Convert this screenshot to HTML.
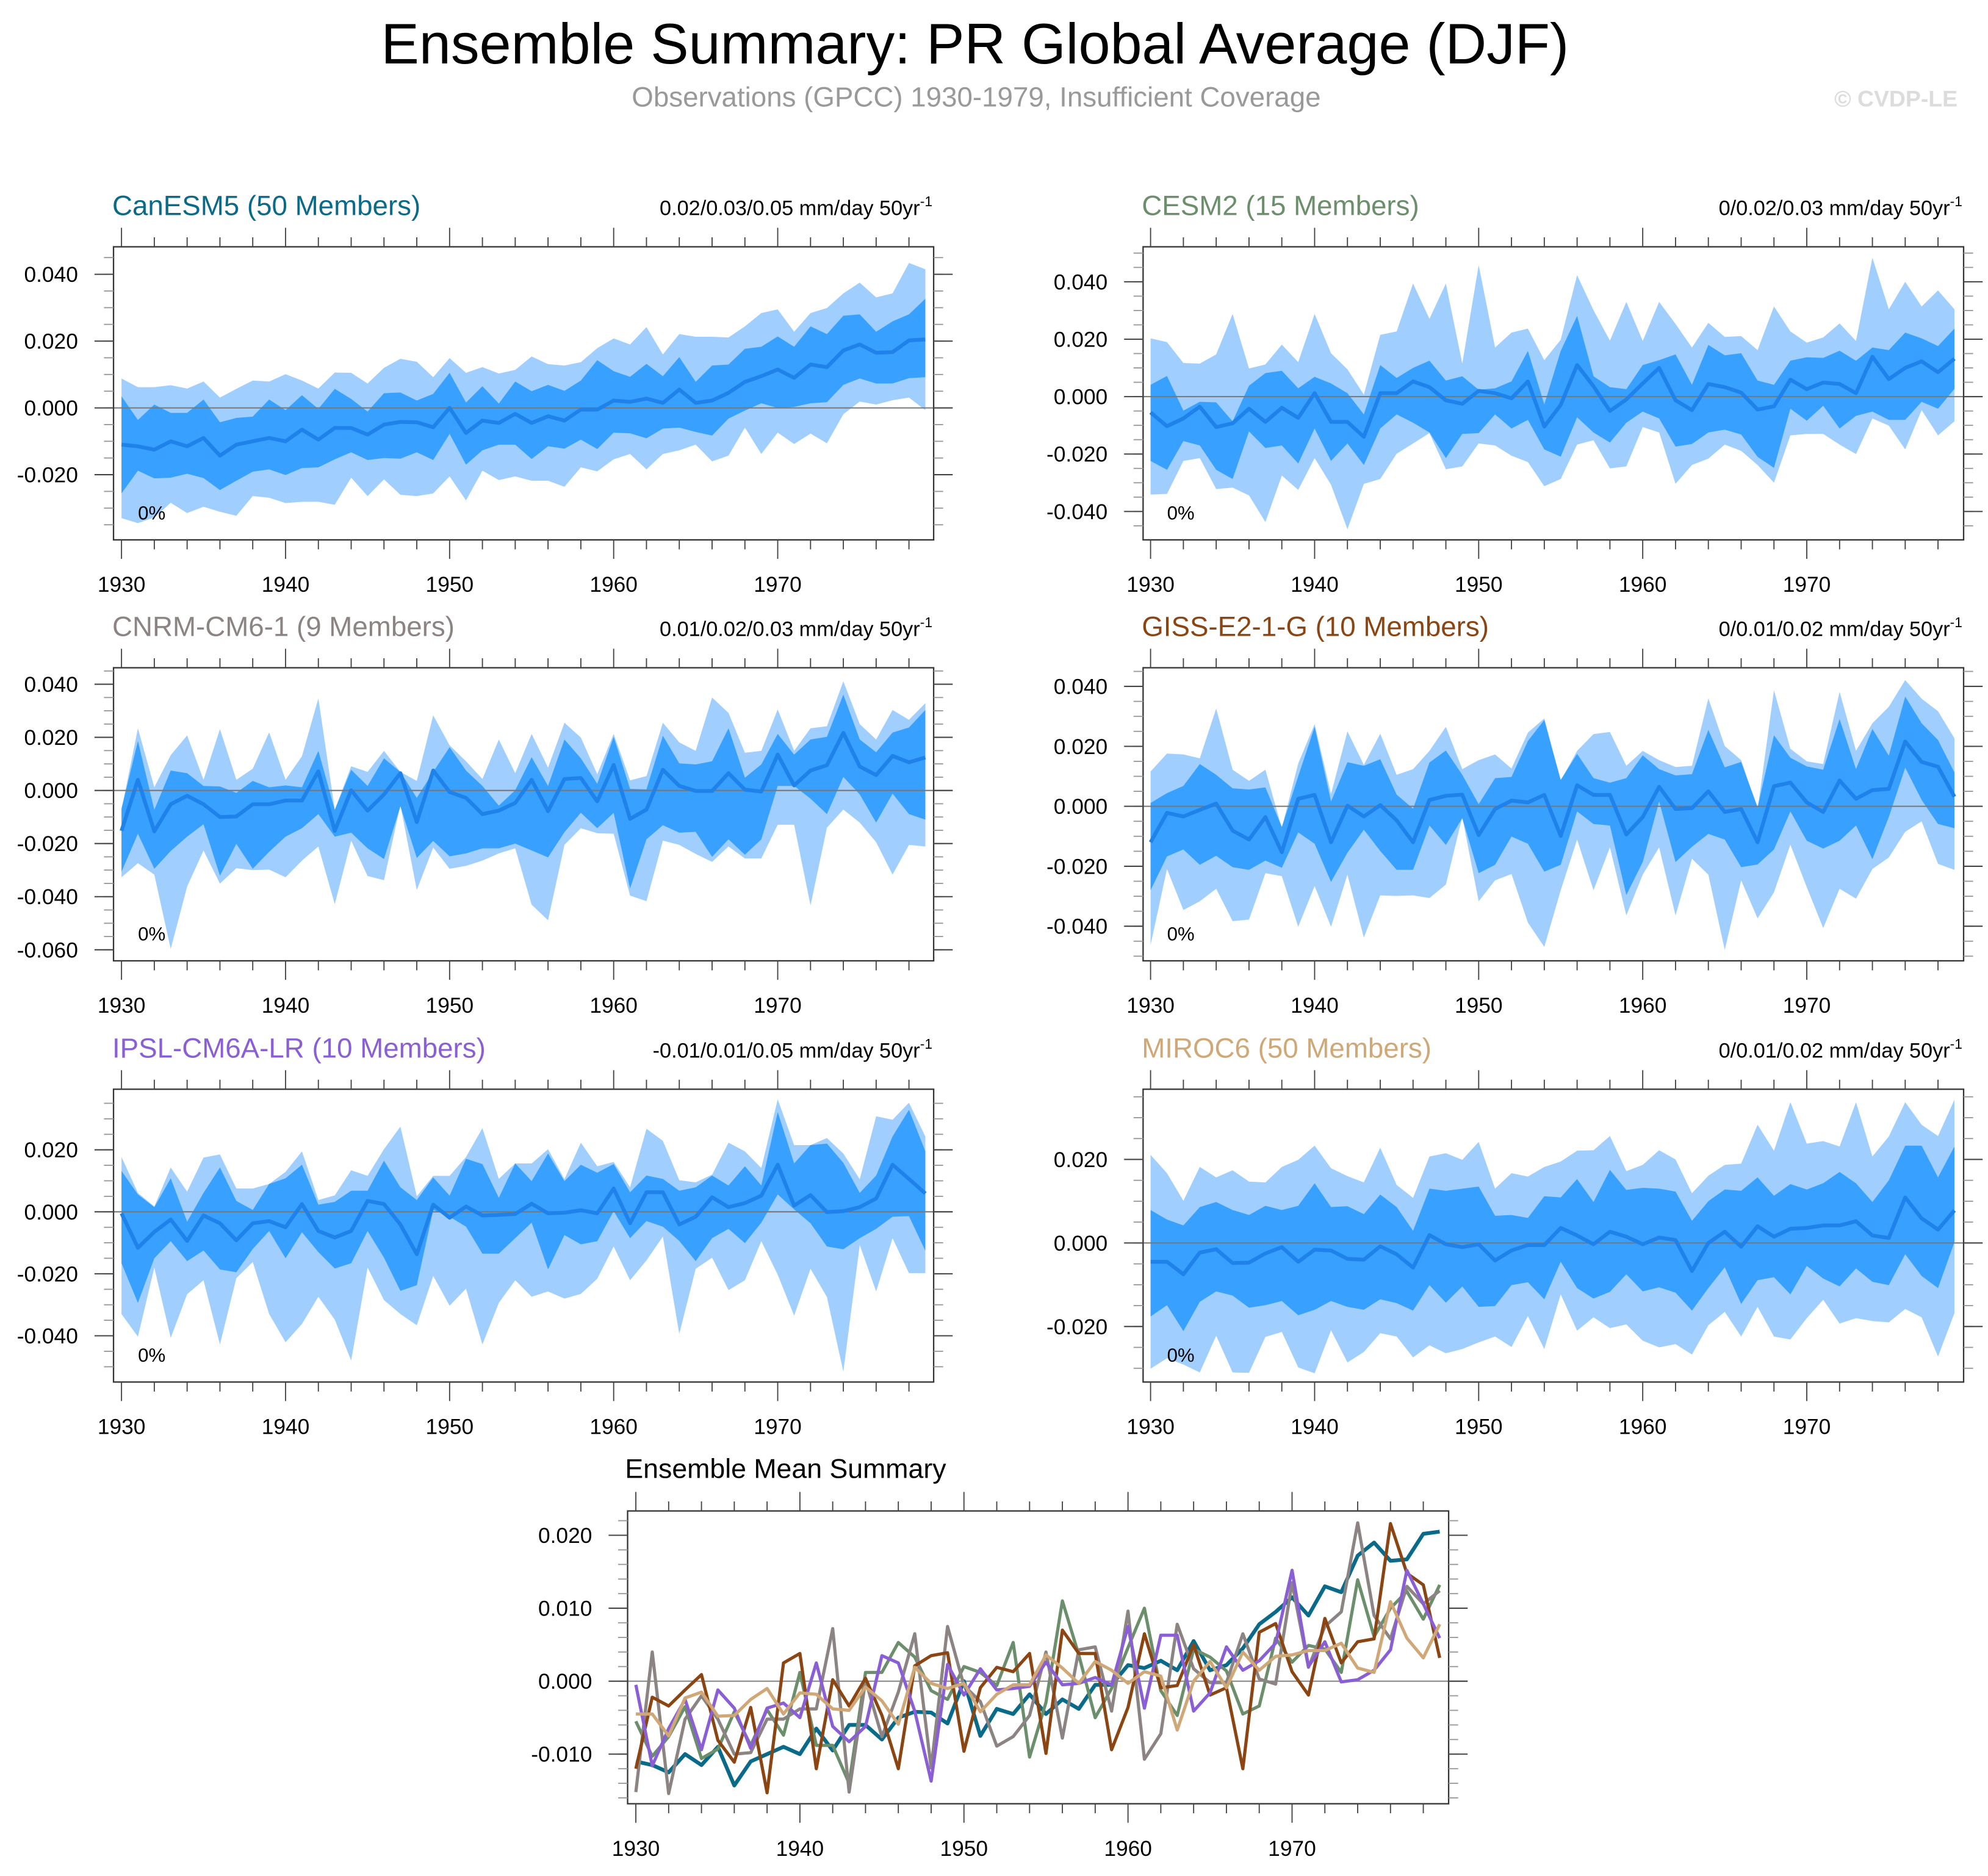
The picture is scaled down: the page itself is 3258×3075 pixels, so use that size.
<!DOCTYPE html>
<html><head><meta charset="utf-8"><style>
html,body{margin:0;padding:0;background:#fff;}
svg{display:block;}
text{font-family:"Liberation Sans",Arial,sans-serif;}
</style></head><body>
<svg id="fig" xmlns="http://www.w3.org/2000/svg" width="3258" height="3075" viewBox="0 0 1568 1480">
<text x="769" y="50" font-size="45" text-anchor="middle" fill="#000">Ensemble Summary: PR Global Average (DJF)</text>
<text x="770" y="84" font-size="22" text-anchor="middle" fill="#999">Observations (GPCC) 1930-1979, Insufficient Coverage</text>
<text x="1544" y="84" font-size="18" font-weight="bold" text-anchor="end" fill="#dcdcdc">© CVDP-LE</text>
</svg>
<script>
// values in units of 0.001 mm/day
const years = [1930,1931,1932,1933,1934,1935,1936,1937,1938,1939,1940,1941,1942,1943,1944,1945,1946,1947,1948,1949,1950,1951,1952,1953,1954,1955,1956,1957,1958,1959,1960,1961,1962,1963,1964,1965,1966,1967,1968,1969,1970,1971,1972,1973,1974,1975,1976,1977,1978,1979];
const xTickYears = [1930,1940,1950,1960,1970];

const canesm5_mean = [-11,-11.5,-12.5,-10,-11.5,-9,-14.3,-11,-10,-9,-10,-6.5,-9.5,-6,-6,-8,-5,-4.2,-4.3,-5.8,0,-7.5,-3.8,-4.5,-1.8,-4.5,-2.5,-3.8,-0.5,-0.5,2.2,1.8,2.8,1.5,5.5,1.5,2.2,4.5,7.8,9.5,11.5,9,13,12.2,17.2,19,16.5,16.7,20.2,20.5];
const canesm5_darkHi = [3.5,-3.6,1,-1.5,-1.5,2.5,-4.3,-3,-2.6,2.5,-0.7,3.8,-0.3,5.7,2.7,-1.1,4.4,4.6,2.2,4.2,10.5,1.6,6.5,1.3,7.9,5,6.9,5.1,8.2,14.3,11,9.3,13.2,9.5,15.2,7.8,12.7,13,17.7,18.3,21.4,18.3,24.4,22.1,27.6,28,22.8,25.9,28,32.7];
const canesm5_darkLo = [-25.6,-18.8,-21.1,-20.9,-19.7,-21,-24.6,-21.8,-19.1,-18.4,-20.1,-18,-17.8,-15.4,-13.3,-15.6,-15,-15.2,-13.3,-15.6,-7.8,-17,-12.7,-11,-11,-15.3,-11.5,-12.2,-9.5,-12.3,-7.4,-7.6,-9.1,-6.2,-5.9,-7.2,-8.3,-3.2,-0.8,1.4,0,0.3,1.4,1.7,6.9,8.8,7.3,7.3,8.9,9.2];
const canesm5_lightHi = [8.8,6.2,6.2,6.8,5.8,7.9,3.1,5.7,8.2,7.9,10.1,8.2,5.8,10.6,10.5,7.3,12,14.7,13.8,9.2,14.9,10.5,12.2,10.3,11.4,15.4,13.1,12.7,13.7,17.9,20.8,19,24.2,16,22.1,21.3,21.3,21.1,24.4,28.4,29.5,22.8,28.4,29.9,34.3,37.5,33.1,34.3,43.4,41.5];
const canesm5_lightLo = [-33,-34.5,-32.8,-28.4,-31.5,-29.6,-31.1,-32.3,-26.4,-26.9,-28.5,-28.1,-28.1,-29,-20.9,-26.4,-21.4,-26,-26.4,-25.6,-20.5,-27.7,-18.8,-21.6,-20.5,-21.8,-21.8,-23.6,-17.8,-19,-15.4,-13.8,-18.4,-13.8,-12.7,-11,-16,-14.3,-5.9,-13.8,-7.4,-10.8,-7.7,-10.6,-1.9,1.9,1,2.3,3.1,-0.7];
const canesm5_yTicks = [40,20,0,-20];

const cesm2_mean = [-5.5,-10.3,-7.6,-3.5,-10.6,-9.3,-4.2,-8.8,-3.9,-7.4,1.2,-8.8,-8.8,-14,1.2,1.2,5.3,3.3,-1.3,-2.5,2,1.2,-0.6,5.3,-10.4,-2.9,11,3.6,-5,-1,4.6,10,-1.3,-4.7,4.4,3.3,1.4,-4.5,-3.4,5.9,2.6,4.9,4.4,1.2,13.9,6.1,10,12.3,8.5,13.2];
const cesm2_darkHi = [4.1,7.2,-4.9,-1.8,-2,-8.6,3.8,8.2,9,2.9,6.9,4.6,1.2,-6.2,11,6.5,10,12.5,5.6,7.1,2.4,2.9,5.3,15.9,-2.7,15.9,28.1,7.1,3.3,2.6,11,12.7,14.7,4.1,18,14.4,15.1,5.6,4.1,12.5,13.7,13.5,16,12.5,17.1,16.2,22.3,20.3,17.6,23.7];
const cesm2_darkLo = [-22.4,-25.5,-15.5,-17,-25.5,-28.7,-12.1,-17.9,-17,-23.3,-11.1,-22.4,-16.3,-23.8,-11.1,-6.2,-9.1,-12.5,-21.4,-13,-12.7,-6.2,-11.1,-8.1,-18.4,-20.9,-7.2,-12.5,-16,-9.1,-5.2,-7.6,-17.4,-16.5,-12.5,-11.5,-13.2,-21,-24.8,-4.2,-8.4,-3.2,-11.1,-6.7,-5.2,-8.1,-8.1,-1.8,-4.2,2.7];
const cesm2_lightHi = [20.3,19,11.7,11.5,14.7,28.8,9.8,11.2,18.1,12,28.8,15.1,9.5,0.7,21.5,22.7,39.4,27.1,39.4,11.5,45.8,17.1,22.3,23.7,12.7,19.8,42.3,30.1,19.5,33,19.4,33,25.3,17.1,25.7,20.8,21.1,16.2,31.4,22.7,18.8,20.6,25.5,19.4,48.4,30.4,40,31.4,37,30.4];
const cesm2_lightLo = [-34.1,-33.9,-22.4,-21.4,-32.2,-31.7,-34.4,-43.7,-27.5,-32.5,-21.4,-30.7,-46.2,-30.4,-28.7,-19.9,-16.3,-12.7,-25.3,-24.3,-16.3,-17,-20.6,-22.8,-31.2,-28.7,-16.7,-15.2,-25,-24.3,-10.6,-12.5,-30.4,-23.8,-21.6,-16.7,-18.9,-23.8,-30,-13.5,-13,-13,-16.7,-20,-7.6,-10.1,-18.4,-4.7,-13.5,-8.6];
const cesm2_yTicks = [40,20,0,-20,-40];

const cnrm_mean = [-15.2,4,-15.4,-5.2,-2,-5.2,-10,-9.8,-5.2,-5.2,-3.8,-3.8,7.2,-15.2,0.1,-7.6,-1.5,6.5,-11.9,7.5,-0.6,-2.8,-8.9,-7.6,-4.7,4,-7.8,4.3,4.7,-4.1,9.6,-10.7,-7.2,7.8,1.7,-0.2,-0.2,6.5,0.3,-0.4,13.5,1.9,7.5,9.5,21.7,9,5.8,13,10.6,12.4];
const cnrm_darkHi = [-6.8,18.6,-7.3,7.5,6.5,1.7,1.5,-0.9,3.6,1.2,1.9,1.2,14.9,-7.3,7.8,1.7,12.1,7,-2.8,7,16.3,7.5,1.7,-5.7,0.1,12.5,1.7,19.2,12.1,2.5,20.2,0.6,0.4,20.6,10.2,9.8,11,23.4,4.8,9.8,21.3,13.5,19.2,20.2,36.1,19.2,14.4,21.8,23.7,30.3];
const cnrm_darkLo = [-30.6,-16.3,-29.5,-22.8,-17.4,-12.7,-32.1,-20.1,-29.5,-23.1,-17.4,-14.2,-8.9,-17.4,-15.9,-21.8,-25.8,-6,-25.4,-19,-24.8,-23.7,-21.8,-21.8,-20,-22.6,-25.2,-15.7,-8.4,-14.2,-8.4,-36.9,-18.4,-13.1,-15.9,-15.6,-25,-18.4,-24.2,-18.4,1.7,1.7,-3.1,-8.9,5.1,-1.5,-12.1,-1.2,-8.9,-11];
const cnrm_lightHi = [-7.3,23.4,1.2,13.3,20.7,4,23.1,4,8.2,21.9,4,12.9,34.7,-7.3,9.1,7,14.9,7,3.6,28.3,17,11,4.3,19.2,6.5,21.3,8.6,25.5,19.9,6.1,21.3,3.8,5.4,25.5,18.1,14.9,35,29.2,14.2,14.9,30.5,14.9,23.4,24.2,41.1,25,19.2,30.3,26.6,32.9];
const cnrm_lightLo = [-32.7,-27.4,-31.7,-59.7,-36.2,-22.6,-35.1,-29.3,-30,-29.8,-32.7,-26.4,-21.1,-42.8,-18.9,-32.2,-33.8,-5.5,-37.5,-21.5,-29.5,-28.4,-26.4,-23.7,-21.8,-43,-48.9,-20.5,-14.2,-16.1,-16.3,-39.6,-41.7,-18.9,-20.5,-23.9,-26.9,-21.1,-25.6,-25.6,-12.9,-12.9,-43.3,-14,-7.2,-12.1,-19.5,-31.7,-20.5,-21.1];
const cnrm_yTicks = [40,20,0,-20,-40,-60];

const giss_mean = [-12,-2.2,-3.4,-1.2,0.9,-8.1,-11.1,-3.6,-15.3,2.5,3.8,-12,0.2,-3.4,0.4,-4.7,-12,2.1,3.5,3.9,-9.6,-0.9,1.9,1.3,3.8,-9.9,7,3.8,3.8,-9.4,-3.6,6.5,-0.9,-0.6,5,-1.9,-0.9,-12,6.7,7.9,1.3,-1.9,8.6,2.5,5.4,5.8,21.6,14.8,13.2,3.2];
const giss_darkHi = [1.1,4.4,6.8,14.1,10.5,6,5.6,6.3,-6.9,10,26.5,1.6,14.7,13.5,15.7,3.9,-0.8,14.6,18.6,10.5,0.7,9.4,9.8,21.8,28.8,8.8,17.5,9.4,7.9,9.4,17,12.4,10.3,10.7,25.5,13,14.8,-0.3,23.7,16.2,13.3,12.2,29.1,12.4,25.8,16.9,36.6,27.7,22.1,11.3];
const giss_darkLo = [-28,-16.7,-14.4,-19.5,-16.5,-20.3,-21.2,-18.1,-20.5,-8.7,-12.5,-25.2,-15.5,-7.8,-14.9,-21.2,-21.2,-6.4,-12.9,-4,-22.3,-19.5,-10.1,-12.5,-21.8,-19.5,-1.7,-5.9,-6.4,-29.6,-18.6,1.6,-18.6,-13.5,-9.2,-11.1,-20.3,-19.4,-14.4,-1.7,-11.5,-14.1,-11.5,-6.4,-17.6,-3.6,12.9,2.1,-5.9,-7.3];
const giss_lightHi = [11.6,17.6,17.3,16,32.6,12.2,8.5,12.2,-7.3,14.3,27.4,4.1,25,13.8,24.2,10.5,12.4,18.5,26.5,12.4,15.4,17.3,12.6,24.6,29.3,8.5,18.5,24.1,24.8,13.5,18.5,15.4,13.1,13.5,36,20.1,15.4,-1.2,38.7,19.2,15,14.1,38.2,18.5,27.7,33.2,42.1,35.9,31.7,22.7];
const giss_lightLo = [-46.3,-20.9,-34.6,-31.7,-27.5,-38.3,-37.8,-22.3,-23.3,-40.2,-26.6,-40.2,-22.8,-43.8,-29.7,-29.9,-29.7,-30.6,-26.1,-3.6,-31.7,-24.7,-22.6,-38.8,-46.9,-28,-11.1,-28,-13.7,-36.4,-22.8,-13.7,-36.4,-17.5,-22.8,-47.9,-24.7,-37.4,-28.7,-12.8,-27,-40.6,-27.5,-30.8,-20.9,-17.1,-8.5,-5,-19.2,-21.2];
const giss_yTicks = [40,20,0,-20,-40];

const ipsl_mean = [-0.5,-11.6,-6.5,-2.5,-9.4,-1.2,-3.7,-9.2,-3.7,-3,-5,2.5,-6.2,-8.3,-6.2,3.5,2.5,-4.1,-13.7,2.3,-1.9,1.7,-1.2,-1,-0.7,2.6,-0.5,-0.3,0.5,-0.5,7.5,-3.7,6.3,6.3,-4.1,-1.6,4.7,1.5,2.8,5.2,15.2,2,5.4,-0.1,0.2,1.5,4.3,15.2,10.6,5.9];
const ipsl_darkHi = [13.2,5.6,1.5,10.8,-3.2,6.1,14.3,3.5,0.6,9,10.8,15.2,2.3,3.2,6.8,6.8,16.5,7.9,3.8,11.1,5.2,17.1,15.4,4.5,15.6,9.9,18.8,9.9,15.2,12.6,15.4,6.3,11.7,10.6,6.8,7.9,11.7,8.5,14.7,8.5,32.2,15.6,21.5,22,15.8,6.1,11.7,24.3,32.9,19.5];
const ipsl_darkLo = [-16.6,-29.4,-15,-9.5,-15.9,-12.5,-18.6,-19.5,-12,-6.2,-15,-6.6,-13,-18.3,-16.6,-6.2,-14.8,-25.5,-23.7,0.6,-1.6,-4.8,-13.5,-13.5,-8.5,-3.5,-18.6,-7.5,-10.5,-9.5,0.2,-8.5,-3,-4.8,-9.4,-15.9,-8.5,-5.5,-10.1,-3.5,5.6,0.8,-3.7,-11.2,-12.1,-8.5,-5.5,-1.6,-1.4,-12.6];
const ipsl_lightHi = [17.7,6.1,1.7,14.3,6.5,17.5,18.5,7.5,7.5,9,12.9,19.5,3.8,5.3,13.4,11.6,20.2,27.5,5,11.6,11.6,17.7,27,10.6,15.6,15.6,20.2,10.5,22.3,14.7,16.1,7.9,26.8,22.9,10.2,9.5,12,22.3,19.5,14.1,36.3,21.5,21.5,23.8,18.8,10.5,30.8,29.7,35.2,24.3];
const ipsl_lightLo = [-33,-40.3,-18,-40.7,-26.6,-22.1,-42.8,-21.4,-16.2,-33,-42.1,-36.2,-27.4,-34.8,-48,-18,-28.5,-33,-36.6,-20.7,-30.3,-24.8,-42.8,-29.4,-22.1,-27.4,-25.7,-28,-26.5,-21.6,-11.2,-22.1,-15.7,-8,-39.4,-18.4,-14.8,-25.3,-22.1,-9.5,-20.3,-33.5,-18.4,-27.5,-51.6,-10.7,-25.7,-8.5,-19.8,-19.8];
const ipsl_yTicks = [20,0,-20,-40];

const miroc6_mean = [-4.5,-4.5,-7.5,-2.3,-1.5,-4.8,-4.7,-2.5,-1,-4.5,-1.6,-1.8,-3.8,-4,-0.8,-2.7,-5.9,1.9,-0.3,-1,-0.3,-4.2,-1.8,-0.5,-0.5,3.6,1.8,-0.3,2.7,1.5,-0.3,1.3,0.7,-6.7,0,2.7,-0.9,4,1.5,3.4,3.6,4.2,4.2,5.2,1.8,1.2,10.9,5.9,3.2,7.8];
const miroc6_darkHi = [7.9,5.6,4.2,8.6,9.8,7.9,6.7,8.9,7.9,8.9,14.3,8.6,8.8,6.9,11.6,8.6,2.9,13,12.5,13,13.5,6.5,6.7,6,11.2,10.9,15.3,9.8,17.5,12.7,13.2,13,12.3,5.3,10,12.8,12.5,15.7,11.3,14.1,12.8,14.3,17,14.3,9.8,15,23.3,23.3,15.7,23.1];
const miroc6_darkLo = [-17.6,-14.9,-21.1,-14.1,-11.6,-12.6,-15.5,-14.9,-13.9,-17.3,-16,-13.9,-15.3,-16,-13.5,-14.4,-16.2,-10.1,-14.3,-10.4,-15.3,-15.1,-10.1,-9.4,-13.5,-4.5,-10.8,-13.3,-11.7,-7.5,-11.6,-10.6,-11.9,-16.2,-10.8,-5.8,-14.6,-8.9,-8.2,-12.3,-5.5,-8.5,-10.4,-6.1,-9.3,-10.1,-2.7,-7.9,-10.8,0.2];
const miroc6_lightHi = [21.1,16.7,10.1,18.2,15.7,17.4,14.7,14.5,18.2,19.9,23.3,17.9,16,14.5,22.8,13.9,10.8,20.7,21.5,19.9,24.2,13,16.7,15.9,18.2,19.5,22.1,22.2,25.6,17.2,18.7,22.2,20,11.9,16.1,18.7,19,28.3,22.1,33.7,23.8,24.4,23.1,33.7,20.7,25.5,33.7,28.3,25.6,34.3];
const miroc6_lightLo = [-30.1,-27.6,-29.1,-31,-22.2,-31,-31.1,-22.5,-21.3,-29.8,-31.2,-20.9,-28.6,-26.1,-21.6,-22.4,-27.4,-24.5,-26.4,-25.4,-23.8,-22.4,-24.9,-17.5,-25.4,-12.3,-21,-17.8,-20.4,-19.5,-23.4,-25,-24.2,-26.7,-19.7,-16.5,-22.4,-15.3,-22.4,-23.1,-18,-13.6,-19.3,-18,-18.7,-19,-15.8,-17.8,-27.2,-16.8];
const miroc6_yTicks = [20,0,-20];

const summary_yTicks = [20,10,0,-10];
const modelNames = ["CanESM5 (50 Members)","CESM2 (15 Members)","CNRM-CM6-1 (9 Members)","GISS-E2-1-G (10 Members)","IPSL-CM6A-LR (10 Members)","MIROC6 (50 Members)"];
const trendLabels = ["0.02/0.03/0.05 mm/day 50yr","0/0.02/0.03 mm/day 50yr","0.01/0.02/0.03 mm/day 50yr","0/0.01/0.02 mm/day 50yr","-0.01/0.01/0.05 mm/day 50yr","0/0.01/0.02 mm/day 50yr"];

const NS = "http://www.w3.org/2000/svg";
const svg = document.getElementById("fig");
function mk(tag, attrs, parent){
  const e = document.createElementNS(NS, tag);
  for (const k in attrs) e.setAttribute(k, attrs[k]);
  parent.appendChild(e);
  return e;
}
const colors = ["#0a6a8a","#6b8e6b","#8c8383","#8b4513","#8a5fd6","#d0a877"];
const YEAR_STEP = 12.94;

function drawAxes(g, L, yTicks, minorStep, fmt){
  const xs = yr => L.x1930 + (yr - 1930) * YEAR_STEP;
  const ys = v => L.zero - v * L.k;
  const fr = mk("rect", {x:L.x0, y:L.y0, width:L.x1-L.x0, height:L.y1-L.y0, fill:"none", stroke:"#333", "stroke-width":1.1}, g);
  
  
  for (let yr = 1930; yr <= 1979; yr += 2) {
    const major = xTickYears.indexOf(yr) >= 0;
    const len = major ? 15 : 7.5;
    const x = xs(yr);
    const t1 = mk("line", {x1:x, x2:x, y1:L.y0, y2:L.y0-len, stroke:"#444", "stroke-width":0.9}, g);
    
    
    const t2 = mk("line", {x1:x, x2:x, y1:L.y1, y2:L.y1+len, stroke:"#444", "stroke-width":0.9}, g);
    
    
  }
  xTickYears.forEach(yr => {
    const t = mk("text", {x:xs(yr), y:L.y1+41, "font-size":17, "text-anchor":"middle", fill:"#000"}, g);
    t.textContent = yr;
    
    
  });
  const vTop = (L.zero - L.y0) / L.k, vBot = (L.zero - L.y1) / L.k;
  for (let v = Math.ceil(vBot / minorStep) * minorStep; v <= vTop; v += minorStep) {
    const y = ys(v);
    const a = mk("line", {x1:L.x0, x2:L.x0-7.5, y1:y, y2:y, stroke:"#999", "stroke-width":0.9}, g);
    
    
    const b = mk("line", {x1:L.x1, x2:L.x1+7.5, y1:y, y2:y, stroke:"#999", "stroke-width":0.9}, g);
    
    
  }
  yTicks.forEach(v => {
    const y = ys(v);
    const a = mk("line", {x1:L.x0, x2:L.x0-15, y1:y, y2:y, stroke:"#444", "stroke-width":1}, g);
    
    
    const b = mk("line", {x1:L.x1, x2:L.x1+15, y1:y, y2:y, stroke:"#444", "stroke-width":1}, g);
    
    
    const t = mk("text", {x:L.x0-28, y:y+6, "font-size":17, "text-anchor":"end", fill:"#000"}, g);
    t.textContent = fmt(v);
    
    
  });
  return {xs, ys};
}
const fmt3 = v => (v/1000).toFixed(3);

function band(g, hi, lo, xs, ys, fill, name){
  const pts = [];
  years.forEach((yr,i) => pts.push(xs(yr).toFixed(2)+","+ys(hi[i]).toFixed(2)));
  for (let i = years.length-1; i >= 0; i--) pts.push(xs(years[i]).toFixed(2)+","+ys(lo[i]).toFixed(2));
  const p = mk("polygon", {points:pts.join(" "), fill:fill, stroke:"none"}, g);
  
  
}

function panel(idx, L, mean, dHi, dLo, lHi, lLo, yTicks){
  const g = mk("g", {}, svg);
  
  
  const xs = yr => L.x1930 + (yr - 1930) * YEAR_STEP;
  const ys = v => L.zero - v * L.k;
  band(g, lHi, lLo, xs, ys, "#a0cfff", "outer-range-band");
  band(g, dHi, dLo, xs, ys, "#38a0ff", "inner-range-band");
  const zl = mk("line", {x1:L.x0, x2:L.x1+15, y1:ys(0), y2:ys(0), stroke:"#777", "stroke-width":1}, g);
  
  
  const pl = mk("polyline", {points:years.map((yr,i)=>xs(yr).toFixed(2)+","+ys(mean[i]).toFixed(2)).join(" "), fill:"none", stroke:"#1e82ea", "stroke-width":3, "stroke-linejoin":"round"}, g);
  
  
  drawAxes(g, L, yTicks, 5, fmt3);
  const tt = mk("text", {x:L.x0-1, y:L.y0-25, "font-size":22, fill:colors[idx]}, g);
  tt.textContent = modelNames[idx];
  
  
  const tr = mk("text", {x:L.x1-1, y:L.y0-25, "font-size":16.5, "text-anchor":"end", fill:"#000"}, g);
  
  
  const s1 = mk("tspan", {}, tr);
  s1.textContent = trendLabels[idx];
  const s2 = mk("tspan", {"font-size":11, dy:-7}, tr);
  s2.textContent = "-1";
  const pc = mk("text", {x:L.x1930+13, y:L.y1-16, "font-size":15, fill:"#000"}, g);
  pc.textContent = "0%";
  
  
}

const LX = {x0:89.5, x1:736.4, x1930:95.8};
const RX = {x0:901.6, x1:1548.8, x1930:907.5};
const R1 = {y0:194.7, y1:425.9}, R2 = {y0:526.8, y1:758}, R3 = {y0:859.3, y1:1090.3};

panel(0, Object.assign({}, LX, R1, {zero:321.8, k:52.7/20}), canesm5_mean, canesm5_darkHi, canesm5_darkLo, canesm5_lightHi, canesm5_lightLo, canesm5_yTicks);
panel(1, Object.assign({}, RX, R1, {zero:312.9, k:45.3/20}), cesm2_mean, cesm2_darkHi, cesm2_darkLo, cesm2_lightHi, cesm2_lightLo, cesm2_yTicks);
panel(2, Object.assign({}, LX, R2, {zero:623.6, k:41.9/20}), cnrm_mean, cnrm_darkHi, cnrm_darkLo, cnrm_lightHi, cnrm_lightLo, cnrm_yTicks);
panel(3, Object.assign({}, RX, R2, {zero:636.1, k:47.3/20}), giss_mean, giss_darkHi, giss_darkLo, giss_lightHi, giss_lightLo, giss_yTicks);
panel(4, Object.assign({}, LX, R3, {zero:956.0, k:48.9/20}), ipsl_mean, ipsl_darkHi, ipsl_darkLo, ipsl_lightHi, ipsl_lightLo, ipsl_yTicks);
panel(5, Object.assign({}, RX, R3, {zero:980.6, k:65.9/20}), miroc6_mean, miroc6_darkHi, miroc6_darkLo, miroc6_lightHi, miroc6_lightLo, miroc6_yTicks);

(function(){
  const L = {x0:495, x1:1142.6, x1930:501.5, y0:1192, y1:1423, zero:1326.3, k:5.755};
  const g = mk("g", {}, svg);
  
  
  const xs = yr => L.x1930 + (yr - 1930) * YEAR_STEP;
  const ys = v => L.zero - v * L.k;
  const zl = mk("line", {x1:L.x0, x2:L.x1+15, y1:ys(0), y2:ys(0), stroke:"#888", "stroke-width":1}, g);
  
  
  const series = [canesm5_mean, cesm2_mean, cnrm_mean, giss_mean, ipsl_mean, miroc6_mean];
  const sNames = ["canesm5","cesm2","cnrm-cm6-1","giss-e2-1-g","ipsl-cm6a-lr","miroc6"];
  series.forEach((s, i) => {
    const pl = mk("polyline", {points:years.map((yr,j)=>xs(yr).toFixed(2)+","+ys(s[j]).toFixed(2)).join(" "), fill:"none", stroke:colors[i], "stroke-width":i===0?3:2.5, "stroke-linejoin":"round"}, g);
    
    
  });
  drawAxes(g, L, summary_yTicks, 2, fmt3);
  const tt = mk("text", {x:L.x0-2, y:1166, "font-size":21.5, fill:"#000"}, g);
  tt.textContent = "Ensemble Mean Summary";
  
  
})();
</script>
</body></html>
